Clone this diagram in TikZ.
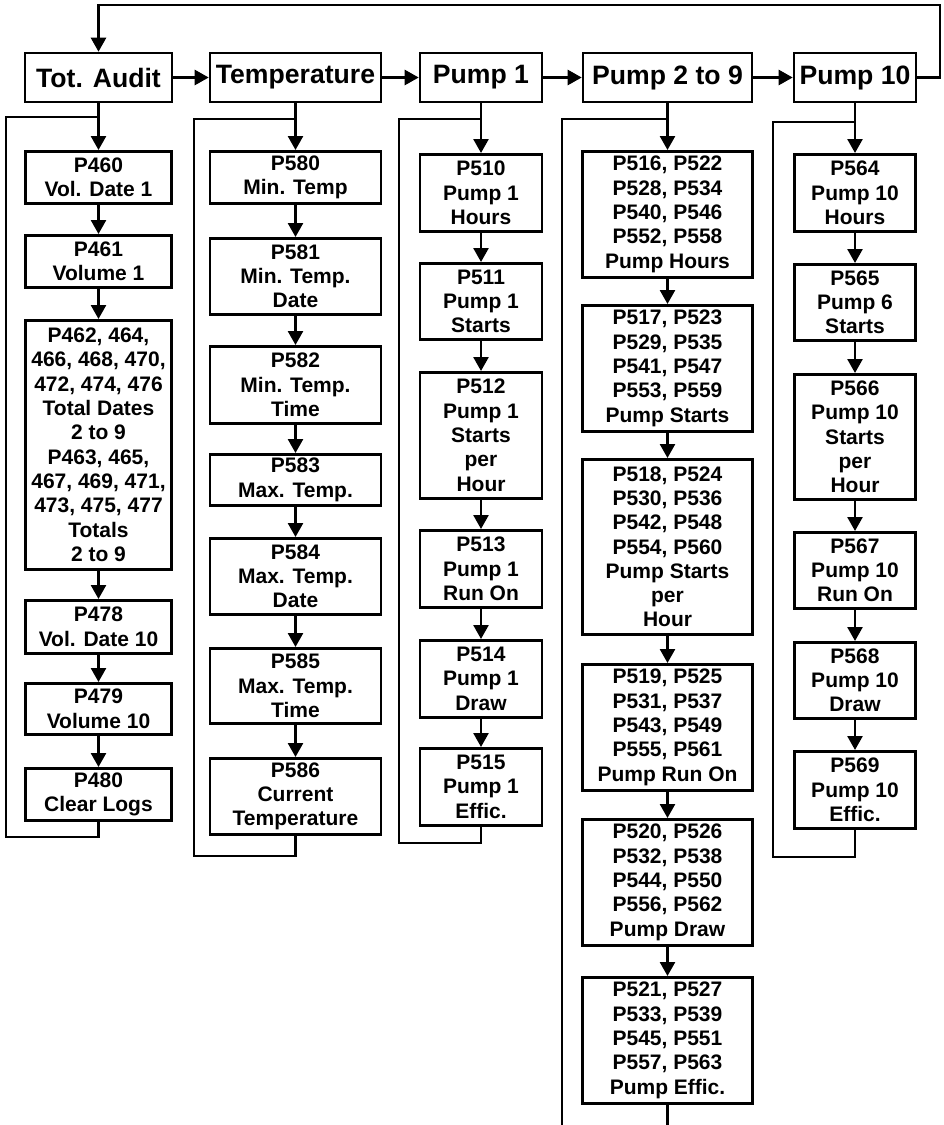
\documentclass[tikz,border=0pt]{standalone}
\usepackage{fontspec}
\setmainfont{Liberation Sans}
\usetikzlibrary{arrows.meta}
\tikzset{
  ln/.style={line width=2.6pt},
  arr/.style={line width=2.6pt,-{Triangle[width=15pt,length=14pt]}},
  mainbox/.style={draw,line width=2.6pt,minimum height=49pt,inner sep=0pt,anchor=center,
    font=\fontsize{26.6}{30}\selectfont\bfseries},
  colbox/.style={draw,line width=2.6pt,inner sep=0pt,anchor=north,align=center,
    font=\fontsize{21}{24.3}\selectfont\bfseries},
}
\begin{document}
\begin{tikzpicture}[x=1pt,y=1pt]
\useasboundingbox (0,0) rectangle (943,-1125);
% main row
\node[mainbox,minimum width=147pt] (ta) at (98.5,-77.5) {Tot. Audit};
\node[mainbox,minimum width=171pt] (temp) at (295.5,-77.5) {Temperature};
\node[mainbox,minimum width=122pt] (p1) at (481,-77.5) {Pump 1};
\node[mainbox,minimum width=169pt] (p29) at (667.5,-77.5) {Pump 2 to 9};
\node[mainbox,minimum width=122pt] (p10) at (855,-77.5) {Pump 10};
\draw[arr] (ta) -- (temp);
\draw[arr] (temp) -- (p1);
\draw[arr] (p1) -- (p29);
\draw[arr] (p29) -- (p10);
\coordinate (tl) at (940,-5);
\draw[arr] (p10.east) -| (tl) -| (ta.north);
% column 1
\begin{scope}[every node/.append style={minimum width=146pt}]
\node[colbox,minimum height=52pt] (p460) at (98.5,-150) {P460\\Vol. Date 1};
\node[colbox,minimum height=52pt] (p461) at (98.5,-234) {P461\\Volume 1};
\node[colbox,minimum height=249pt] (p462) at (98.5,-319) {P462, 464,\\466, 468, 470,\\472, 474, 476\\Total Dates\\2 to 9\\P463, 465,\\467, 469, 471,\\473, 475, 477\\Totals\\2 to 9};
\node[colbox,minimum height=53pt] (p478) at (98.5,-599) {P478\\Vol. Date 10};
\node[colbox,minimum height=51pt] (p479) at (98.5,-682) {P479\\Volume 10};
\node[colbox,minimum height=52pt] (p480) at (98.5,-767) {P480\\Clear Logs};
\end{scope}
\draw[arr] (ta) -- (p460);
\draw[arr] (p460) -- (p461);
\draw[arr] (p461) -- (p462);
\draw[arr] (p462) -- (p478);
\draw[arr] (p478) -- (p479);
\draw[arr] (p479) -- (p480);
\coordinate (l1a) at (6,-837);
\coordinate (l1b) at (6,-117);
\draw[ln] (p480.south) |- (l1a) -- (l1b) -- (l1b -| ta.south);
% column 2
\begin{scope}[every node/.append style={minimum width=171pt}]
\node[colbox,minimum height=52pt] (p580) at (295.5,-150) {P580\\Min. Temp};
\node[colbox,minimum height=76pt] (p581) at (295.5,-237) {P581\\Min. Temp.\\Date};
\node[colbox,minimum height=77pt] (p582) at (295.5,-345) {P582\\Min. Temp.\\Time};
\node[colbox,minimum height=51pt] (p583) at (295.5,-453) {P583\\Max. Temp.};
\node[colbox,minimum height=76pt] (p584) at (295.5,-537) {P584\\Max. Temp.\\Date};
\node[colbox,minimum height=75pt] (p585) at (295.5,-647) {P585\\Max. Temp.\\Time};
\node[colbox,minimum height=76pt] (p586) at (295.5,-757) {P586\\Current\\Temperature};
\end{scope}
\draw[arr] (temp) -- (p580);
\draw[arr] (p580) -- (p581);
\draw[arr] (p581) -- (p582);
\draw[arr] (p582) -- (p583);
\draw[arr] (p583) -- (p584);
\draw[arr] (p584) -- (p585);
\draw[arr] (p585) -- (p586);
\coordinate (l2a) at (194,-856);
\coordinate (l2b) at (194,-119);
\draw[ln] (p586.south) |- (l2a) -- (l2b) -- (l2b -| temp.south);
% column 3
\begin{scope}[every node/.append style={minimum width=122pt}]
\node[colbox,minimum height=77pt] (p510) at (481,-153) {P510\\Pump 1\\Hours};
\node[colbox,minimum height=76pt] (p511) at (481,-262) {P511\\Pump 1\\Starts};
\node[colbox,minimum height=126pt] (p512) at (481,-371) {P512\\Pump 1\\Starts\\per\\Hour};
\node[colbox,minimum height=77pt] (p513) at (481,-529) {P513\\Pump 1\\Run On};
\node[colbox,minimum height=77pt] (p514) at (481,-639) {P514\\Pump 1\\Draw};
\node[colbox,minimum height=77pt] (p515) at (481,-747) {P515\\Pump 1\\Effic.};
\end{scope}
\draw[arr] (p1) -- (p510);
\draw[arr] (p510) -- (p511);
\draw[arr] (p511) -- (p512);
\draw[arr] (p512) -- (p513);
\draw[arr] (p513) -- (p514);
\draw[arr] (p514) -- (p515);
\coordinate (l3a) at (399,-843);
\coordinate (l3b) at (399,-119);
\draw[ln] (p515.south) |- (l3a) -- (l3b) -- (l3b -| p1.south);
% column 4
\begin{scope}[every node/.append style={minimum width=170pt}]
\node[colbox,minimum height=126pt] (p516) at (667.5,-150) {P516, P522\\P528, P534\\P540, P546\\P552, P558\\Pump Hours};
\node[colbox,minimum height=126pt] (p517) at (667.5,-304) {P517, P523\\P529, P535\\P541, P547\\P553, P559\\Pump Starts};
\node[colbox,minimum height=175pt] (p518) at (667.5,-458) {P518, P524\\P530, P536\\P542, P548\\P554, P560\\Pump Starts\\per\\Hour};
\node[colbox,minimum height=126pt] (p519) at (667.5,-663) {P519, P525\\P531, P537\\P543, P549\\P555, P561\\Pump Run On};
\node[colbox,minimum height=126pt] (p520) at (667.5,-818) {P520, P526\\P532, P538\\P544, P550\\P556, P562\\Pump Draw};
\node[colbox,minimum height=126pt] (p521) at (667.5,-976) {P521, P527\\P533, P539\\P545, P551\\P557, P563\\Pump Effic.};
\end{scope}
\draw[arr] (p29) -- (p516);
\draw[arr] (p516) -- (p517);
\draw[arr] (p517) -- (p518);
\draw[arr] (p518) -- (p519);
\draw[arr] (p519) -- (p520);
\draw[arr] (p520) -- (p521);
\coordinate (l4a) at (667.5,-1125);
\coordinate (l4b) at (562,-1125);
\coordinate (l4c) at (562,-119);
\draw[ln] (p521.south) -- (l4a);
\draw[ln] (l4b) -- (l4c) -- (l4c -| p29.south);
% column 5
\begin{scope}[every node/.append style={minimum width=121pt}]
\node[colbox,minimum height=77pt] (p564) at (855,-153) {P564\\Pump 10\\Hours};
\node[colbox,minimum height=76pt] (p565) at (855,-263) {P565\\Pump 6\\Starts};
\node[colbox,minimum height=125pt] (p566) at (855,-373) {P566\\Pump 10\\Starts\\per\\Hour};
\node[colbox,minimum height=76pt] (p567) at (855,-531) {P567\\Pump 10\\Run On};
\node[colbox,minimum height=76pt] (p568) at (855,-641) {P568\\Pump 10\\Draw};
\node[colbox,minimum height=77pt] (p569) at (855,-750) {P569\\Pump 10\\Effic.};
\end{scope}
\draw[arr] (p10) -- (p564);
\draw[arr] (p564) -- (p565);
\draw[arr] (p565) -- (p566);
\draw[arr] (p566) -- (p567);
\draw[arr] (p567) -- (p568);
\draw[arr] (p568) -- (p569);
\coordinate (l5a) at (773,-857);
\coordinate (l5b) at (773,-122);
\draw[ln] (p569.south) |- (l5a) -- (l5b) -- (l5b -| p10.south);
\end{tikzpicture}
\end{document}
